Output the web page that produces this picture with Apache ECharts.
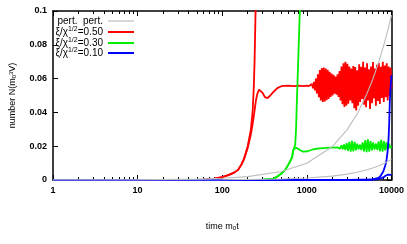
<!DOCTYPE html>
<html><head><meta charset="utf-8">
<script src="https://cdn.jsdelivr.net/npm/echarts@6/dist/echarts.min.js"></script>
<style>html,body{margin:0;padding:0;background:#fff}#c{width:407px;height:244px}</style>
</head><body><div id="c"></div>
<script>
// ---- data ----
const xMajorTicks = [1, 10, 100, 1000, 10000];
const xMinorTicks = [2,3,4,5,6,7,8,9,20,30,40,50,60,70,80,90,200,300,400,500,600,700,800,900,2000,3000,4000,5000,6000,7000,8000,9000];
const yTicks = [0, 0.02, 0.04, 0.06, 0.08, 0.1];

const legendNames = ['pert', 'x050', 'x030', 'x010'];

// perturbative curves (grey)
const pertA = [[1,0.00001],[10,0.0001],[50,0.0005],[100,0.001],[200,0.002],[500,0.005],[1000,0.0099],[2000,0.0198],[3000,0.0298],[4000,0.0398],[5000,0.0498],[6000,0.0595],[7000,0.0692],[8000,0.0788],[9000,0.0882],[10000,0.0976]];
const pertB = [[1,0],[100,0.0001],[500,0.0006],[1000,0.0012],[2000,0.0023],[3000,0.0035],[4000,0.0047],[5000,0.0059],[6000,0.0071],[7000,0.0083],[8000,0.0096],[9000,0.0109],[10000,0.0122]];

// xi/chi^1/2 = 0.50 (red)
const red1 = [[1,0],[30,0],[60,0.0002],[80,0.0008],[100,0.0017],[120,0.003],[140,0.0045],[154,0.006],[170,0.0095],[181,0.0125],[200,0.02],[218,0.030],[229,0.041],[236,0.055],[241,0.070],[245,0.088],[248,0.102]];
const red2Head = [[1,0],[30,0],[60,0.0002],[80,0.0008],[100,0.0017],[120,0.003],[140,0.0045],[154,0.006],[170,0.0095],[181,0.0125],[200,0.019],[218,0.027],[230,0.034],[241,0.041],[250,0.047],[260,0.051],[272,0.0535],[284,0.054],[300,0.0515],[320,0.049],[343,0.0485],[370,0.050],[400,0.052],[448,0.0544],[500,0.0555],[600,0.0558],[700,0.0555],[800,0.0558],[900,0.0556],[1000,0.0558]];
const redOscT = [1060,1089,1118,1149,1180,1212,1245,1279,1313,1349,1385,1423,1461,1501,1542,1584,1627,1671,1716,1763,1811,1860,1910,1962,2015,2070,2126,2184,2243,2304,2367,2431,2497,2565,2634,2706,2779,2855,2932,3012,3093,3177,3264,3352,3443,3537,3633,3731,3832,3936,4043,4153,4266,4381,4500,4622,4748,4876,5009,5145,5284,5428,5575,5726,5882,6041,6205,6373,6546,6724,6906,7093,7286,7483,7686,7895,8109,8329,8555,8787,9025,9270,9521,9780,10000];
const redOscN = [0.0556,0.0562,0.0549,0.0568,0.0543,0.0580,0.0530,0.0600,0.0512,0.0625,0.0490,0.0650,0.0470,0.0662,0.0462,0.0665,0.0465,0.0660,0.0472,0.0652,0.0480,0.0640,0.0492,0.0630,0.0500,0.0622,0.0510,0.0612,0.0505,0.0625,0.0492,0.0645,0.0470,0.0672,0.0448,0.0690,0.0432,0.0700,0.0440,0.0688,0.0452,0.0672,0.0470,0.0660,0.0455,0.0675,0.0425,0.0668,0.0412,0.0650,0.0440,0.0685,0.0462,0.0670,0.0480,0.0700,0.0445,0.0665,0.0430,0.0690,0.0470,0.0655,0.0420,0.0672,0.0455,0.0698,0.0482,0.0660,0.0440,0.0682,0.0468,0.0692,0.0450,0.0670,0.0485,0.0700,0.0462,0.0678,0.0490,0.0690,0.0470,0.0672,0.0495,0.0665,0.0540];

// xi/chi^1/2 = 0.30 (green)
const green1 = [[1,0],[100,0],[300,0.0002],[405,0.0008],[447,0.002],[500,0.0038],[555,0.006],[600,0.0088],[640,0.0115],[670,0.0136],[687,0.0172],[710,0.019],[728,0.021],[745,0.030],[760,0.045],[775,0.058],[790,0.070],[805,0.083],[818,0.094],[830,0.103]];
const green2Head = [[1,0],[100,0],[300,0.0002],[405,0.0008],[447,0.002],[500,0.0038],[555,0.006],[600,0.0088],[640,0.0115],[670,0.0136],[687,0.0172],[710,0.0186],[750,0.0190],[790,0.0186],[840,0.0176],[900,0.0168],[950,0.0165],[1020,0.0170],[1200,0.0182],[1400,0.0187],[1600,0.0189],[1850,0.0191],[2100,0.0192]];
const greenOscT = [2294,2378,2466,2557,2651,2749,2850,2955,3064,3177,3294,3415,3541,3671,3806,3946,4091,4242,4398,4560,4728,4902,5082,5269,5463,5664,5872,6088,6312,6544,6785,7035,7294,7562,7840,8129,8428,8738,9060,9393,9739,10000];
const greenOscN = [0.0193,0.0200,0.0186,0.0205,0.0182,0.0210,0.0178,0.0218,0.0172,0.0225,0.0168,0.0232,0.0170,0.0226,0.0176,0.0215,0.0182,0.0208,0.0178,0.0222,0.0170,0.0236,0.0165,0.0240,0.0168,0.0230,0.0175,0.0222,0.0180,0.0215,0.0178,0.0228,0.0170,0.0238,0.0168,0.0230,0.0175,0.0222,0.0180,0.0214,0.0188,0.0200];

// xi/chi^1/2 = 0.10 (blue)
const blue1 = [[1,0],[3000,0],[6000,0.0003],[7000,0.0012],[7450,0.0025],[8000,0.005],[8500,0.009],[8750,0.012],[9000,0.017],[9230,0.024],[9400,0.034],[9550,0.046],[9700,0.053],[9850,0.058],[10000,0.062]];
const blue2 = [[1,0],[5000,0],[7000,0.0005],[8000,0.0015],[8500,0.0025],[9000,0.0031],[9500,0.0028],[10000,0.003]];

// ---- build ----
const red2 = red2Head.concat(redOscT.map((t,i)=>[t, redOscN[i]]));
const green2 = green2Head.concat(greenOscT.map((t,i)=>[t, greenOscN[i]]));

const FONT = "'Liberation Sans Narrow','Liberation Sans',Arial,sans-serif";
const legendText = {
  pert: '{t|pert.  pert.}',
  x050: '{t|ξ/χ}{s|1/2}{t|=0.50}',
  x030: '{t|ξ/χ}{s|1/2}{t|=0.30}',
  x010: '{t|ξ/χ}{s|1/2}{t|=0.10}'
};
const colors = {pert:'#bdbdbd', x050:'#ff0000', x030:'#00ee00', x010:'#0000ff'};
const legendTops = [16, 26, 37, 47];

const chart = echarts.init(document.getElementById('c'), null, {renderer:'canvas'});

function line(name, data, width, z) {
  return {type:'line', name, data, showSymbol:false, symbol:'none', xAxisIndex:0, yAxisIndex:0,
    lineStyle:{color:colors[name], width}, itemStyle:{color:colors[name]}, z, animation:false};
}

const axisCommon = {
  axisLine:{show:true, lineStyle:{color:'#000', width:1.5}},
  splitLine:{show:false}
};

const option = {
  animation:false,
  backgroundColor:'#fff',
  grid:{left:49, right:15, top:11, bottom:64},
  legend: legendNames.map((n,i)=>({
    data:[n], selectedMode:false, orient:'vertical', align:'right',
    right: 407-134, top: legendTops[i], padding:0,
    icon:'rect', itemWidth:26, itemHeight: n==='pert'?1.2:2, itemGap:4,
    formatter: nm => legendText[nm],
    textStyle:{fontFamily:FONT, color:'#000',
      rich:{t:{fontSize:10, fontFamily:FONT, color:'#000', lineHeight:12},
            s:{fontSize:7, fontFamily:FONT, color:'#000', verticalAlign:'top', lineHeight:8}}}
  })),
  xAxis:[
    Object.assign({}, axisCommon, {
      type:'log', logBase:10, min:1, max:10000, position:'bottom', gridIndex:0,
      axisTick:{show:true, inside:true, length:5, customValues:xMajorTicks, lineStyle:{color:'#000', width:1}},
      axisLabel:{show:true, customValues:xMajorTicks, margin:6, color:'#000', fontFamily:FONT, fontSize:9, fontWeight:'bold',
        formatter: v => String(Math.round(v))},
      name:'time m{s|0}t', nameLocation:'middle', nameGap:42,
      nameTextStyle:{fontFamily:FONT, fontSize:9, color:'#000',
        rich:{s:{fontSize:6, verticalAlign:'bottom', fontFamily:FONT, color:'#000'}}}
    }),
    {type:'log', logBase:10, min:1, max:10000, position:'bottom', gridIndex:0,
      axisLine:{show:false}, splitLine:{show:false},
      axisTick:{show:true, inside:true, length:3, customValues:xMinorTicks, lineStyle:{color:'#000', width:1}},
      axisLabel:{show:false}},
    Object.assign({}, axisCommon, {
      type:'log', logBase:10, min:1, max:10000, position:'top', gridIndex:0,
      axisTick:{show:true, inside:true, length:5, customValues:xMajorTicks, lineStyle:{color:'#000', width:1}},
      axisLabel:{show:false}}),
    {type:'log', logBase:10, min:1, max:10000, position:'top', gridIndex:0,
      axisLine:{show:false}, splitLine:{show:false},
      axisTick:{show:true, inside:true, length:3, customValues:xMinorTicks, lineStyle:{color:'#000', width:1}},
      axisLabel:{show:false}}
  ],
  yAxis:[
    Object.assign({}, axisCommon, {
      type:'value', min:0, max:0.1, interval:0.02, position:'left', gridIndex:0,
      axisTick:{show:true, inside:true, length:5, lineStyle:{color:'#000', width:1}},
      axisLabel:{show:true, margin:6, color:'#000', fontFamily:FONT, fontSize:9, fontWeight:'bold',
        customValues: yTicks, formatter: v => String(+v.toFixed(2))},
      name:'number N(m{s|0}{p|3}V)', nameLocation:'middle', nameGap:36, nameRotate:90,
      nameTextStyle:{fontFamily:FONT, fontSize:9, color:'#000',
        rich:{s:{fontSize:6, verticalAlign:'bottom', fontFamily:FONT, color:'#000'},
              p:{fontSize:6, verticalAlign:'top', fontFamily:FONT, color:'#000'}}}
    }),
    Object.assign({}, axisCommon, {
      type:'value', min:0, max:0.1, interval:0.02, position:'right', gridIndex:0,
      axisTick:{show:true, inside:true, length:5, lineStyle:{color:'#000', width:1}},
      axisLabel:{show:false}})
  ],
  series:[
    line('x050', red1, 1.8, 3),
    line('x050', red2, 1.8, 3),
    line('x030', green1, 1.8, 4),
    line('x030', green2, 1.8, 4),
    line('x010', blue1, 1.8, 5),
    line('x010', blue2, 1.8, 5),
    line('pert', pertA, 1.1, 6),
    line('pert', pertB, 1.1, 6)
  ]
};
chart.setOption(option);
</script>
</body></html>
